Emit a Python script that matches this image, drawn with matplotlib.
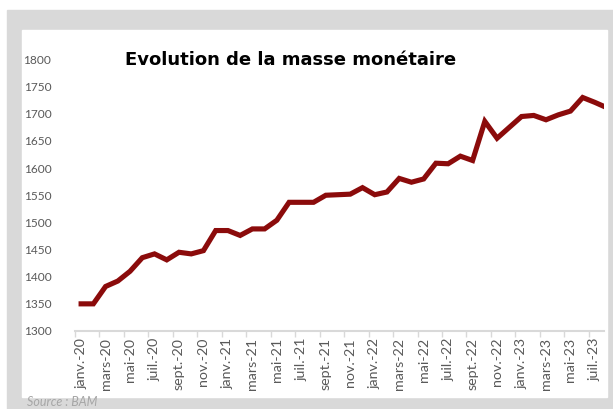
import numpy as np
import matplotlib
matplotlib.use("Agg")
import matplotlib.pyplot as plt
from matplotlib.patches import Rectangle

# monthly values, janv.-20 .. août-23 (last point runs off the cropped edge)
months = ["janv.", "févr.", "mars", "avr.", "mai", "juin",
          "juil.", "août", "sept.", "oct.", "nov.", "déc."]
years = ["20", "21", "22", "23"]
masse = [1350, 1350, 1382, 1392, 1410, 1435, 1442, 1431, 1445, 1442, 1448, 1485,
         1485, 1476, 1488, 1488, 1504, 1537, 1537, 1537, 1550, 1551, 1552, 1564,
         1551, 1556, 1581, 1574, 1580, 1609, 1608, 1622, 1614, 1686, 1655, 1675,
         1695, 1697, 1689, 1698, 1705, 1730, 1721, 1711]
labels = [m + "-" + y for y in years for m in months][:len(masse)]
yticks = [1300, 1350, 1400, 1450, 1500, 1550, 1600, 1650, 1700, 1750, 1800]

W, H = 613, 409
fig = plt.figure(figsize=(W / 100, H / 100), dpi=100)
fig.patch.set_facecolor("white")

# grey frame + white chart panel (pixel coords -> figure fractions)
def px_rect(x0, y0, x1, y1, color):
    fig.patches.append(Rectangle((x0 / W, 1 - y1 / H), (x1 - x0) / W, (y1 - y0) / H,
                                 transform=fig.transFigure, color=color, zorder=-10))

px_rect(7, 10, 613, 409, "#d9d9d9")
px_rect(22, 30, 607, 397, "white")

ax = fig.add_axes([75 / W, 1 - 331 / H, 528.5 / W, (331 - 59.5) / H])
ax.set_facecolor("none")

x = np.arange(len(masse))
ax.plot(x, masse, color="#8b0b0b", lw=3.7, solid_joinstyle="miter")

ax.set_xlim(-0.5, 42.7)
ax.set_ylim(1300, 1800)

ax.set_yticks(yticks)
ax.set_yticklabels([str(v) for v in yticks])
ax.tick_params(axis="y", length=0, pad=17, labelsize=8.6, labelcolor="#595959")

# labels every 2 months, tick marks on category boundaries
ax.set_xticks(x[:43:2])
ax.set_xticklabels(labels[:43:2], rotation=90, fontsize=10.3, color="#595959")
ax.set_xticks(np.arange(-0.5, 43, 2), minor=True)
ax.tick_params(axis="x", which="major", length=0, pad=5)
ax.tick_params(axis="x", which="minor", length=4, width=1, color="#d9d9d9")

for s in ["top", "right", "left"]:
    ax.spines[s].set_visible(False)
ax.spines["bottom"].set_color("#d9d9d9")
ax.spines["bottom"].set_linewidth(1.5)

for t in ax.get_xticklabels() + ax.get_yticklabels():
    t.set_family("Lato")

fig.text(291 / W, 1 - 60 / H, "Evolution de la masse monétaire", ha="center", va="center",
         fontsize=13, fontweight="bold", family="DejaVu Sans", color="black")
fig.text(27 / W, 1 / H, "Source : BAM", ha="left", va="bottom", fontsize=9,
         style="italic", family="Lato", color="#a6a6a6")

fig.savefig("out.png", dpi=100)
